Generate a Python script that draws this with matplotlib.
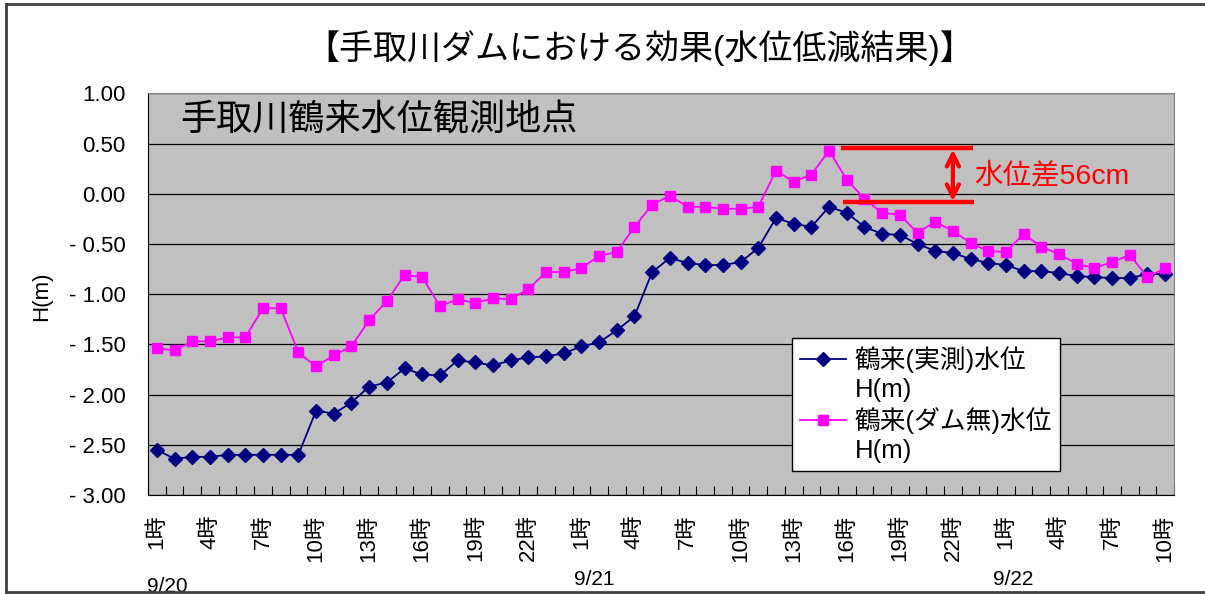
import numpy as np
import matplotlib
matplotlib.use("Agg")
import matplotlib.pyplot as plt
import matplotlib.transforms as mtransforms
from matplotlib.lines import Line2D

plt.rcParams['font.family'] = ['Liberation Sans', 'Noto Sans CJK JP']

# data (hourly, 9/20 1時 .. 9/22 10時)
dates = ['9/20', '9/21', '9/22']
hours_per_day = [24, 24, 10]

actual = [-2.55, -2.64, -2.62, -2.62, -2.60, -2.60, -2.60, -2.60, -2.60, -2.16,
          -2.19, -2.08, -1.92, -1.88, -1.74, -1.80, -1.81, -1.66, -1.68, -1.71,
          -1.66, -1.63, -1.62, -1.59, -1.52, -1.48, -1.36, -1.22, -0.78, -0.64,
          -0.69, -0.71, -0.71, -0.68, -0.54, -0.24, -0.30, -0.33, -0.13, -0.19,
          -0.33, -0.40, -0.41, -0.50, -0.57, -0.59, -0.65, -0.69, -0.71, -0.77,
          -0.77, -0.79, -0.82, -0.83, -0.84, -0.84, -0.80, -0.80]

no_dam = [-1.54, -1.56, -1.47, -1.47, -1.43, -1.43, -1.14, -1.14, -1.58, -1.72,
          -1.61, -1.52, -1.26, -1.07, -0.81, -0.83, -1.12, -1.05, -1.09, -1.04,
          -1.05, -0.95, -0.78, -0.78, -0.74, -0.62, -0.58, -0.33, -0.11, -0.02,
          -0.13, -0.13, -0.15, -0.15, -0.13, 0.23, 0.12, 0.19, 0.43, 0.14,
          -0.05, -0.19, -0.21, -0.39, -0.28, -0.37, -0.49, -0.57, -0.58, -0.40,
          -0.53, -0.60, -0.70, -0.74, -0.68, -0.61, -0.83, -0.74]

series_names = ['鶴来(実測)水位', '鶴来(ダム無)水位']
unit_label = 'H(m)'

categories = []
day_start = []
for d, n in zip(dates, hours_per_day):
    day_start.append(len(categories))
    categories += [f"{h}時" for h in range(1, n + 1)]

W, H = 1205, 594
fig = plt.figure(figsize=(W / 100, H / 100), dpi=100)
ax = fig.add_axes([148 / W, 1 - 495 / H, (1174 - 148) / W, (495 - 93.3) / H])
ax.set_facecolor('#C0C0C0')

x = np.arange(len(categories))
l1, = ax.plot(x, actual, color='#000080', marker='D', ms=7, lw=1.3, zorder=3)
l2, = ax.plot(x, no_dam, color='#FF00FF', marker='s', ms=7, lw=1.3, zorder=4)

ax.set_xlim(-0.5, len(categories) - 0.5)
ax.set_ylim(-3, 1)
yt = np.arange(-3, 1.01, 0.5)
ax.set_yticks(yt)
ax.set_yticklabels([f"{v:.2f}".replace('-', '- ') for v in yt])
ax.tick_params(axis='y', length=0, pad=16, labelsize=16)
ax.yaxis.grid(True, color='black', lw=0.9)
ax.set_axisbelow(True)

ax.set_xticks(x[::3])
ax.set_xticklabels(categories[::3], rotation=90, fontsize=16)
ax.tick_params(axis='x', which='major', length=0, pad=14)
ax.set_xticks(np.arange(-0.5, len(categories), 1), minor=True)
ax.tick_params(axis='x', which='minor', direction='in', length=6.5, width=0.8, color='black')

for s in ['top', 'right']:
    ax.spines[s].set_color('#808080')
for s in ['left', 'bottom']:
    ax.spines[s].set_color('black')

# date labels under the hours
trans = mtransforms.blended_transform_factory(ax.transData, fig.transFigure)
date_x = [0.6, 0.7, 0.4]
date_y = [-0.004, 0.008, 0.008]
for d, st, dx, yy in zip(dates, day_start, date_x, date_y):
    ax.text(st + dx, yy, d, transform=trans, ha='center', va='bottom', fontsize=15)

# difference annotation
ax.plot([38.7, 46.15], [0.452, 0.452], color='red', lw=3.2, solid_capstyle='butt', zorder=5)
ax.plot([38.8, 46.2], [-0.086, -0.086], color='red', lw=3.2, solid_capstyle='butt', zorder=5)
ax.annotate('', xy=(45.0, 0.44), xytext=(45.0, -0.075),
            arrowprops=dict(arrowstyle='<->', color='red', lw=3, mutation_scale=22,
                            shrinkA=0, shrinkB=0), zorder=5)
ax.text(46.2, 0.176, '水位差56cm', color='red', fontsize=20.5, va='center', ha='left')

# legend, marker aligned to first text line
blank = Line2D([], [], linestyle='none')
leg = ax.legend([l1, blank, l2, blank], [series_names[0], unit_label, series_names[1], unit_label],
                loc='upper left', bbox_to_anchor=((792 - 148) / 1026, (495 - 338) / 401.7),
                borderaxespad=0, fontsize=18.5, labelspacing=0.2, borderpad=0.3,
                handlelength=1.8, handletextpad=0.35, fancybox=False, framealpha=1,
                edgecolor='black', facecolor='white')
leg.get_frame().set_linewidth(1.0)
leg.set_zorder(6)

fig.text(640 / W, 1 - 48 / H, '【手取川ダムにおける効果(水位低減結果)】', ha='center', va='center',
         fontsize=24.5)
fig.text(180 / W, 1 - 121 / H, '手取川鶴来水位観測地点', ha='left', va='center', fontsize=26)
fig.text(42 / W, 1 - 296 / H, unit_label, rotation=90, ha='center', va='center', fontsize=16)

# outer frame of the chart area
bc = '#404040'
fig.add_artist(Line2D([6 / W, 6 / W], [1 - 3.5 / H, 1 - 592 / H], transform=fig.transFigure, color=bc, lw=2))
fig.add_artist(Line2D([6 / W, 1], [1 - 3.5 / H, 1 - 3.5 / H], transform=fig.transFigure, color=bc, lw=2))
fig.add_artist(Line2D([6 / W, 1], [1 - 592 / H, 1 - 592 / H], transform=fig.transFigure, color=bc, lw=2))

fig.savefig('out.png', dpi=100)
